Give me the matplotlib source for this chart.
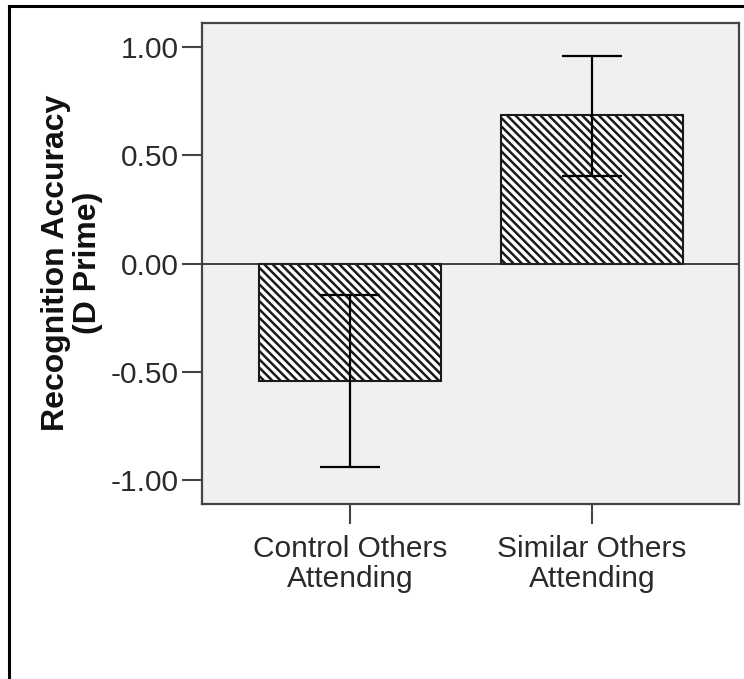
import matplotlib
matplotlib.use("Agg")
import matplotlib.pyplot as plt
from matplotlib.lines import Line2D

plt.rcParams['font.family'] = ['Liberation Sans', 'DejaVu Sans']
plt.rcParams['hatch.linewidth'] = 1.8
plt.rcParams['hatch.color'] = '#1a1a1a'

# data
groups = ['Control Others\nAttending', 'Similar Others\nAttending']
means = [-0.54, 0.685]
ci_low = [-0.94, 0.405]
ci_high = [-0.145, 0.96]
yticks = [1.0, 0.5, 0.0, -0.5, -1.0]

fig = plt.figure(figsize=(7.44, 6.79), dpi=100)
ax = fig.add_axes((0.2715, 0.2577, 0.7218, 0.7084))
ax.set_facecolor('#f0f0f0')

pos = list(range(len(groups)))
ax.bar(pos, means, width=0.75, color='white', edgecolor='#1a1a1a',
       linewidth=1.5, hatch='\\\\\\\\', zorder=2)
ax.axhline(0, color='#222222', lw=1.2, zorder=3)

err_lo = [m - lo for m, lo in zip(means, ci_low)]
err_hi = [hi - m for m, hi in zip(means, ci_high)]
ax.errorbar(pos, means, yerr=[err_lo, err_hi], fmt='none', ecolor='black',
            elinewidth=1.6, capsize=21.5, capthick=1.6, zorder=4)

ax.set_xlim(-0.612, 1.607)
ax.set_ylim(-1.11, 1.11)
ax.set_xticks(pos)
ax.set_xticklabels(groups, linespacing=1.1)
ax.set_yticks(yticks)
ax.set_yticklabels(['%.2f' % v for v in yticks])

for s in ax.spines.values():
    s.set_color('#444444')
    s.set_linewidth(1.6)
ax.tick_params(axis='both', direction='out', length=14.5, width=1.5,
               color='#444444', labelsize=21.5, labelcolor='#2a2a2a')
ax.tick_params(axis='y', pad=2)
ax.tick_params(axis='x', pad=8)

fig.text(72 / 744, 1 - 263 / 679, 'Recognition Accuracy\n(D Prime)',
         rotation=90, ha='center', va='center', multialignment='center',
         fontsize=23, fontweight='bold', color='#111111', linespacing=1.05)

# frame lines of the cropped screenshot (top and left only)
fig.add_artist(Line2D([9 / 744, 1.0], [1 - 6 / 679, 1 - 6 / 679],
                      transform=fig.transFigure, color='black', lw=2.2))
fig.add_artist(Line2D([9 / 744, 9 / 744], [0.0, 1 - 6 / 679],
                      transform=fig.transFigure, color='black', lw=2.2))

fig.savefig('out.png', dpi=100, facecolor='white')
